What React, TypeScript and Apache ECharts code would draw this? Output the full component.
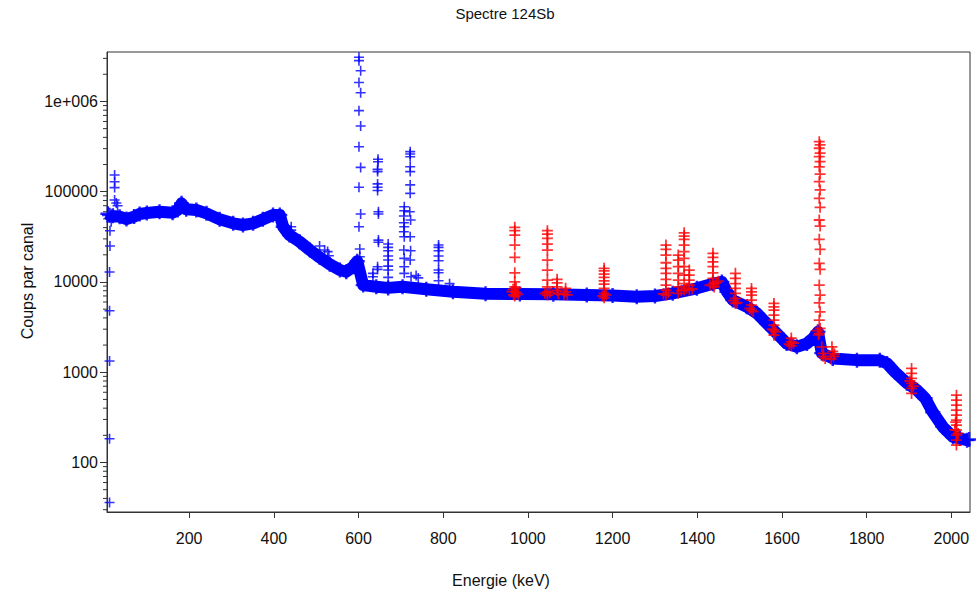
import { useEffect, useRef } from "react";
import * as echarts from "echarts";

// Continuum (band): energy (keV) / counts per channel
const continuumEnergy = [8, 12, 20, 36, 52, 70, 83, 100, 130, 161, 173, 182, 187, 193, 217, 241, 272, 304, 327, 351, 374, 398, 414, 422, 437, 461, 485, 508, 532, 556, 571, 587, 597, 611, 642, 670, 704, 760, 823, 900, 981, 1060, 1139, 1200, 1257, 1300, 1342, 1399, 1437, 1458, 1470, 1484, 1517, 1541, 1564, 1588, 1611, 1635, 1659, 1673, 1685, 1694, 1720, 1777, 1831, 1848, 1867, 1895, 1919, 1938, 1956, 1980, 2004, 2020, 2037, 2042];
const continuumCounts = [57000, 55000, 54000, 52800, 49800, 53000, 56600, 58000, 60000, 58500, 62700, 74300, 68000, 63800, 62700, 57600, 49400, 44600, 42800, 44600, 49400, 55200, 55200, 40900, 33100, 27900, 22600, 18750, 15700, 13550, 12980, 14740, 17000, 9240, 8850, 8600, 8850, 8300, 7790, 7400, 7345, 7300, 7160, 7100, 6855, 7000, 7480, 8500, 9580, 9990, 7790, 6300, 5310, 4490, 3475, 2690, 2085, 1912, 2085, 2370, 2805, 1628, 1422, 1362, 1362, 1252, 1003, 757, 633, 516, 361, 248, 192, 185, 177, 180];

// Blue peak channels (below ~950 keV)
const bluePeakEnergy = [
  12, 12, 12, 12, 12, 13, 13, 16, 24, 24, 24, 24, 28, 31,
  441, 441, 508, 520, 527, 530,
  601, 601, 605, 601, 605, 601, 605, 601, 605, 601, 605, 601, 603, 603, 603,
  646, 646, 645, 645, 645, 645, 645, 647, 647, 647, 647, 645, 645,
  670, 670, 670, 670, 670, 670, 670, 670,
  708, 708, 707, 707, 708, 707, 708, 707, 708, 708, 708,
  722, 722, 722, 722, 722, 722, 722, 721, 723, 722, 723, 722, 724,
  789, 789, 789, 789, 789, 789, 789, 789,
  634, 634, 736, 741, 815,
];
const bluePeakCounts = [
  36, 183, 1330, 4800, 12900, 25000, 37000, 46500, 153000, 129000, 111000, 81000, 75000, 70000,
  40900, 37500, 25000, 22600, 21700, 19500,
  3090000, 2830000, 2190000, 1620000, 1250000, 791000, 535000, 315000, 186000, 112000, 56600, 40900, 23170, 19030, 12460,
  229000, 215000, 177000, 167000, 122000, 112000, 103000, 60000, 56600, 29100, 27500, 14750, 13800,
  26300, 24200, 22180, 19370, 17500, 15000, 13550, 11250,
  68200, 61500, 53800, 45300, 40900, 36000, 31700, 22580, 18270, 14750, 12460,
  278000, 262000, 244000, 189000, 167000, 119000, 95900, 60000, 48600, 31700, 22180, 17500, 11420,
  25650, 24200, 22180, 19370, 17180, 13550, 12650, 10310,
  12460, 11420, 11800, 11100, 9580,
];

// Red (identified) peak channels
const redEnergy = [
  969, 969, 969, 969, 969, 969, 969, 969, 969, 969, 962, 966, 973, 977, 965, 972,
  1046, 1046, 1046, 1046, 1046, 1046, 1046, 1046, 1046, 1046, 1046, 1040, 1052,
  1069, 1069, 1069, 1069, 1072,
  1089, 1089, 1085, 1093,
  1180, 1180, 1180, 1180, 1180, 1180, 1180, 1180, 1176, 1185, 1180,
  1326, 1326, 1326, 1326, 1326, 1326, 1326, 1326, 1326, 1326, 1320, 1332,
  1355, 1355, 1355, 1355, 1355, 1355, 1355,
  1369, 1369, 1369, 1369, 1369, 1369, 1369, 1369, 1369, 1369,
  1381, 1381, 1381, 1381, 1381, 1388, 1362, 1375,
  1437, 1437, 1437, 1437, 1437, 1437, 1437, 1430, 1445, 1450, 1440,
  1490, 1490, 1490, 1490, 1490, 1490, 1490, 1486, 1494,
  1528, 1528, 1528, 1528, 1528, 1528, 1524, 1532,
  1581, 1581, 1581, 1581, 1581, 1581, 1581, 1581, 1577, 1585,
  1622, 1622, 1622, 1617, 1627,
  1688, 1690, 1688, 1690, 1688, 1690, 1688, 1690, 1688, 1690, 1688, 1690, 1688, 1690, 1688, 1690, 1688, 1690, 1688, 1690, 1688, 1690, 1688, 1690, 1688, 1684, 1686,
  1694, 1698, 1702, 1697,
  1718, 1720, 1722, 1716, 1724,
  1906, 1906, 1906, 1906, 1906, 1906, 1902, 1910,
  2012, 2012, 2012, 2012, 2012, 2012, 2012, 2012, 2012, 2012, 2012, 2008, 2016, 2010,
];
const redCounts = [
  40300, 36970, 33100, 25650, 18750, 12650, 10050, 8850, 7790, 6980, 7800, 7200, 7600, 7300, 8300, 8600,
  36970, 33960, 30430, 26300, 22600, 17500, 13550, 10500, 8850, 7790, 7160, 7500, 7600,
  10700, 9800, 8850, 8050, 7400,
  8500, 7790, 7300, 7200,
  14150, 13310, 12240, 11250, 10310, 9480, 8490, 7480, 7000, 7200, 6700,
  25650, 22970, 19870, 16330, 14150, 12460, 10690, 9240, 8130, 7160, 7400, 7600,
  19870, 17500, 14750, 12460, 10500, 8850, 7480,
  35100, 32280, 29650, 25650, 21700, 18270, 14750, 11930, 9580, 8130,
  13550, 11930, 10500, 9240, 8130, 8400, 8000, 8500,
  20750, 18750, 16750, 14750, 12650, 10960, 9580, 9200, 9800, 10200, 8800,
  12460, 10960, 9580, 8490, 7480, 6580, 5790, 6200, 5900,
  8490, 7790, 7160, 6300, 5540, 4880, 5100, 4700,
  5790, 5310, 4880, 4295, 3780, 3326, 2930, 2577, 3000, 2800,
  2390, 2170, 1960, 2050, 2100,
  358000, 330000, 303000, 267000, 244000, 215000, 189000, 157000, 129000, 104500, 84500, 67100, 48600, 41670, 29650, 22970, 16080, 13800, 9240, 7160, 5880, 4670, 3780, 3060, 2690, 2900, 2600,
  1912, 1620, 1422, 1500,
  1912, 1700, 1500, 1400, 1600,
  1102, 970, 853, 751, 661, 582, 800, 700,
  557, 491, 432, 380, 334, 294, 259, 228, 201, 177, 156, 230, 210, 280,
];

const xTickValues = [200, 400, 600, 800, 1000, 1200, 1400, 1600, 1800, 2000];
const yTickValues = [100, 1000, 10000, 100000, 1000000];
const yMinorTickValues = [
  30, 40, 50, 60, 70, 80, 90,
  200, 300, 400, 500, 600, 700, 800, 900,
  2000, 3000, 4000, 5000, 6000, 7000, 8000, 9000,
  20000, 30000, 40000, 50000, 60000, 70000, 80000, 90000,
  200000, 300000, 400000, 500000, 600000, 700000, 800000, 900000,
  2000000, 3000000,
];

const X_MIN = 6;
const X_MAX = 2044;
const Y_MIN = 28.3;
const Y_MAX = 3530000;

const FONT = "'Liberation Sans', Arial, Helvetica, sans-serif";
const PLUS = "path://M4.2,0H5.8V4.2H10V5.8H5.8V10H4.2V5.8H0V4.2H4.2Z";

const zip = (xs: number[], ys: number[]) => xs.map((x, i) => [x, ys[i]]);

export default function App() {
  const ref = useRef<HTMLDivElement>(null);

  useEffect(() => {
    document.body.style.margin = "0";
    if (!ref.current) return;
    const chart = echarts.init(ref.current, undefined, { renderer: "svg" });

    const continuum = zip(continuumEnergy, continuumCounts);

    chart.setOption({
      animation: false,
      backgroundColor: "#ffffff",
      grid: {
        left: 107,
        right: 6,
        top: 52,
        bottom: 80,
        show: true,
        borderColor: "#333",
        borderWidth: 1,
        backgroundColor: "transparent",
      },
      graphic: [
        {
          type: "text",
          x: 505,
          y: 13,
          style: {
            text: "Spectre 124Sb",
            font: `15px ${FONT}`,
            fill: "#111",
            textAlign: "center",
            textVerticalAlign: "middle",
          },
        },
        {
          type: "text",
          x: 501,
          y: 580,
          style: {
            text: "Energie (keV)",
            font: `16px ${FONT}`,
            fill: "#111",
            textAlign: "center",
            textVerticalAlign: "middle",
          },
        },
        {
          type: "text",
          x: 27,
          y: 281,
          rotation: Math.PI / 2,
          style: {
            text: "Coups par canal",
            font: `16px ${FONT}`,
            fill: "#111",
            textAlign: "center",
            textVerticalAlign: "middle",
          },
        },
      ],
      xAxis: {
        type: "value",
        min: X_MIN,
        max: X_MAX,
        splitLine: { show: false },
        axisLine: { show: true, lineStyle: { color: "#333", width: 1 } },
        axisTick: {
          show: true,
          inside: false,
          length: 6,
          customValues: xTickValues,
          lineStyle: { color: "#333" },
        },
        axisLabel: {
          customValues: xTickValues,
          margin: 18,
          fontSize: 16,
          fontFamily: FONT,
          color: "#111",
          formatter: (v: number) => String(Math.round(v)),
        },
      },
      yAxis: {
        type: "log",
        logBase: 10,
        min: Y_MIN,
        max: Y_MAX,
        splitLine: { show: false },
        axisLine: { show: true, lineStyle: { color: "#333", width: 1 } },
        axisTick: {
          show: true,
          inside: false,
          length: 7,
          customValues: yTickValues,
          lineStyle: { color: "#333" },
        },
        axisLabel: {
          customValues: yTickValues,
          margin: 9,
          fontSize: 16,
          fontFamily: FONT,
          color: "#111",
          formatter: (v: number) => {
            const r = Math.round(v);
            return r >= 1000000 ? "1e+006" : String(r);
          },
        },
      },
      series: [
        {
          type: "custom",
          coordinateSystem: "cartesian2d",
          clip: false,
          silent: true,
          data: yMinorTickValues.map((v) => [X_MIN, v]),
          renderItem: (_p: any, api: any) => {
            const pt = api.coord([api.value(0), api.value(1)]);
            return {
              type: "line",
              shape: { x1: pt[0] - 4, y1: pt[1], x2: pt[0], y2: pt[1] },
              style: { stroke: "#333", lineWidth: 1 },
            };
          },
          z: 1,
        },
        {
          type: "line",
          data: continuum,
          symbol: "none",
          lineStyle: { color: "#0000ff", width: 12, cap: "butt", join: "round" },
          silent: true,
          z: 2,
        },
        {
          type: "scatter",
          data: continuum,
          symbol: PLUS,
          symbolSize: 15,
          itemStyle: { color: "#0000ff", opacity: 0.85 },
          silent: true,
          z: 3,
        },
        {
          type: "scatter",
          data: zip(bluePeakEnergy, bluePeakCounts),
          symbol: PLUS,
          symbolSize: 10,
          itemStyle: { color: "#0000ff" },
          silent: true,
          z: 4,
        },
        {
          type: "scatter",
          data: zip(redEnergy, redCounts),
          symbol: PLUS,
          symbolSize: 11,
          itemStyle: { color: "#ff0000" },
          silent: true,
          z: 5,
        },
      ],
    });

    return () => chart.dispose();
  }, []);

  return <div ref={ref} style={{ width: 976, height: 592 }} />;
}
